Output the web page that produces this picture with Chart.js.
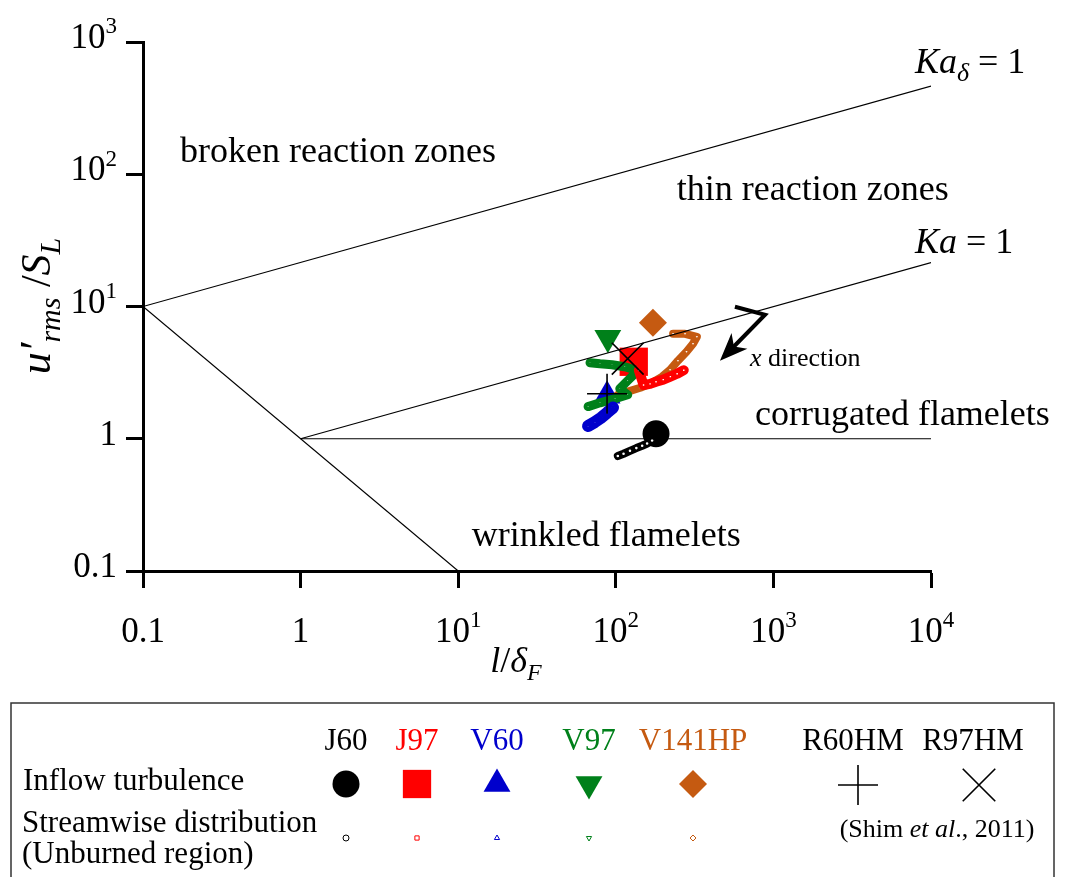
<!DOCTYPE html>
<html>
<head>
<meta charset="utf-8">
<script src="https://cdn.jsdelivr.net/npm/chart.js@4.4.1/dist/chart.umd.min.js"></script>
<style>
  html, body { margin: 0; padding: 0; background: #fff; }
  #wrap { position: relative; width: 1065px; height: 877px; }
</style>
</head>
<body>
<div id="wrap"><canvas id="regime" width="1065" height="877"></canvas></div>
<script>
// tick values / labels ("^" marks the exponent)
const xTicks = [0.1, 1, 10, 100, 1000, 10000];
const xTickLabels = ['0.1', '1', '10^1', '10^2', '10^3', '10^4'];
const yTicks = [0.1, 1, 10, 100, 1000];
const yTickLabels = ['0.1', '1', '10^1', '10^2', '10^3'];

// regime boundaries, [l/deltaF, u'rms/SL]
const kaDeltaLine = [[0.1, 10], [10000, 464]];
const kaLine = [[1, 1], [10000, 21.5]];
const reLine = [[0.1, 10], [10, 0.1]];
const unityLine = [[1, 1], [10000, 1]];

// inflow turbulence, one point per case
const cases = ['J60', 'J97', 'V60', 'V97', 'V141HP'];
const inflowX = [180, 130, 88, 89, 172];
const inflowY = [1.09, 3.82, 2.11, 5.8, 7.54];

// streamwise distribution (unburned region)
const j60X = [103, 112, 123, 135, 147, 158, 170];
const j60Y = [0.74, 0.77, 0.81, 0.85, 0.885, 0.92, 0.97];
const j97X = [140, 150, 165, 180, 200, 222, 245, 270];
const j97Y = [3.3, 2.55, 2.6, 2.7, 2.8, 2.95, 3.1, 3.3];
const v60X = [66.7, 73.8, 80.5, 87.9, 96];
const v60Y = [1.25, 1.34, 1.44, 1.57, 1.72];
const v97X = [68.6, 79.4, 94.6, 114, 138, 119, 106, 119, 98.9, 79.4, 66.7];
const v97Y = [3.76, 3.69, 3.63, 3.5, 3.27, 2.75, 2.39, 2.15, 2.01, 1.87, 1.75];
const v141X = [231, 275, 327, 309, 281, 248, 221, 196, 170, 143, 119, 103];
const v141Y = [6.22, 6.22, 5.9, 5.23, 4.55, 3.89, 3.32, 2.94, 2.65, 2.43, 2.27, 2.15];

// Shim et al., 2011
const shimCases = ['R60HM', 'R97HM'];
const shimX = [88, 119];
const shimY = [2.19, 4.03];

const caseColors = ['#000000', '#ff0000', '#0000cc', '#00801a', '#c55a11'];
const caseStyles = ['circle', 'rect', 'triangle', 'triangle', 'rectRot'];
const caseRotation = [0, 0, 0, 180, 0];
const caseRadius = [13.5, 20, 15.5, 15.5, 14];
const trailWidth = [8, 10, 12, 9, 8];

const SERIF = '"Liberation Serif", "Times New Roman", serif';
function font(size, italic) {
  return (italic ? 'italic ' : '') + size + 'px ' + SERIF;
}
// parts: [text, size, italic, dy]
function drawRich(ctx, parts, x, y, align) {
  let w = 0;
  parts.forEach(p => { ctx.font = font(p[1], p[2]); w += ctx.measureText(p[0]).width; });
  let cx = align === 'center' ? x - w / 2 : align === 'right' ? x - w : x;
  ctx.textAlign = 'left';
  ctx.textBaseline = 'alphabetic';
  parts.forEach(p => {
    ctx.font = font(p[1], p[2]);
    ctx.fillText(p[0], cx, y + (p[3] || 0));
    cx += ctx.measureText(p[0]).width;
  });
}
function tickParts(label, size) {
  const bits = label.split('^');
  const parts = [[bits[0], size, false, 0]];
  if (bits[1]) parts.push([bits[1], Math.round(size * 0.66), false, -size * 0.42]);
  return parts;
}
const pts = (xs, ys) => xs.map((x, i) => ({ x: x, y: ys[i] }));
const pairs = arr => arr.map(p => ({ x: p[0], y: p[1] }));

const datasets = [];
// Shim et al. crosses on top
shimCases.forEach((name, i) => {
  datasets.push({
    label: name, data: [{ x: shimX[i], y: shimY[i] }], order: 0,
    pointStyle: i === 0 ? 'cross' : 'crossRot', pointRadius: i === 0 ? 20 : 22.5,
    borderColor: '#000', backgroundColor: '#000', pointBorderWidth: 1.6, showLine: false
  });
});
// regime boundaries
[kaDeltaLine, kaLine, reLine, unityLine].forEach((ln, i) => {
  datasets.push({
    label: 'boundary' + i, data: pairs(ln), order: 1, showLine: true,
    borderColor: '#000', borderWidth: 1.2, pointRadius: 0, fill: false
  });
});
// streamwise trails
[[j60X, j60Y], [j97X, j97Y], [v60X, v60Y], [v97X, v97Y], [v141X, v141Y]].forEach((s, i) => {
  datasets.push({
    label: cases[i] + ' streamwise', data: pts(s[0], s[1]), order: 2, showLine: true,
    borderColor: caseColors[i], borderWidth: trailWidth[i], borderCapStyle: 'round', borderJoinStyle: 'round',
    pointStyle: caseStyles[i], rotation: caseRotation[i], pointRadius: 2,
    pointBackgroundColor: '#fff', pointBorderColor: caseColors[i], pointBorderWidth: 1.4, tension: 0
  });
});
// inflow turbulence
cases.forEach((name, i) => {
  datasets.push({
    label: name, data: [{ x: inflowX[i], y: inflowY[i] }], order: 3, showLine: false,
    pointStyle: caseStyles[i], rotation: caseRotation[i], pointRadius: caseRadius[i],
    backgroundColor: caseColors[i], borderColor: caseColors[i], pointBorderWidth: 0
  });
});

const textPlugin = {
  id: 'regimeText',
  afterDraw(chart) {
    const ctx = chart.ctx;
    const xs = chart.scales.x, ys = chart.scales.y;
    const X = v => xs.getPixelForValue(v), Y = v => ys.getPixelForValue(v);
    ctx.save();
    ctx.fillStyle = '#000';

    // tick labels
    xTicks.forEach((v, i) => drawRich(ctx, tickParts(xTickLabels[i], 35), X(v), 642, 'center'));
    yTicks.forEach((v, i) => drawRich(ctx, tickParts(yTickLabels[i], 35), 117, Y(v) + 6, 'right'));

    // axis titles
    drawRich(ctx, [['l', 36, true], ['/', 36, false], ['\u03b4', 36, true], ['F', 24, true, 8]], 516, 672, 'center');
    ctx.save();
    ctx.translate(50, 306);
    ctx.rotate(-Math.PI / 2);
    drawRich(ctx, [['u', 44, true], ['\u2032', 44, true], ['rms', 30, true, 10], [' /', 42, false], ['S', 42, true], ['L', 30, true, 10]], 0, 0, 'center');
    ctx.restore();

    // regime labels
    drawRich(ctx, [['broken reaction zones', 36, false]], X(0.172), Y(124.3), 'left');
    drawRich(ctx, [['thin reaction zones', 36, false]], X(244), Y(64.1), 'left');
    drawRich(ctx, [['corrugated flamelets', 36, false]], X(764), Y(1.276), 'left');
    drawRich(ctx, [['wrinkled flamelets', 36, false]], X(12.2), Y(0.155), 'left');
    drawRich(ctx, [['Ka', 36, true], ['\u03b4', 26, true, 8], [' = 1', 36, false]], X(7907), Y(585), 'left');
    drawRich(ctx, [['Ka', 36, true], [' = 1', 36, false]], X(7907), Y(25.5), 'left');
    drawRich(ctx, [['x', 26, true], [' direction', 26, false]], X(711), Y(3.56), 'left');

    // x direction arrow
    const ax = [570, 885, 458], ay = [9.96, 8.66, 3.89];
    ctx.strokeStyle = '#000';
    ctx.lineWidth = 4;
    ctx.lineJoin = 'miter';
    ctx.beginPath();
    ctx.moveTo(X(ax[0]), Y(ay[0]));
    ctx.lineTo(X(ax[1]), Y(ay[1]));
    const tx = X(ax[2]), ty = Y(ay[2]);
    const ang = Math.atan2(ty - Y(ay[1]), tx - X(ax[1]));
    ctx.lineTo(tx - 14 * Math.cos(ang), ty - 14 * Math.sin(ang));
    ctx.stroke();
    ctx.beginPath();
    ctx.moveTo(tx, ty);
    ctx.lineTo(tx - 30 * Math.cos(ang - 0.38), ty - 30 * Math.sin(ang - 0.38));
    ctx.lineTo(tx - 20 * Math.cos(ang), ty - 20 * Math.sin(ang));
    ctx.lineTo(tx - 30 * Math.cos(ang + 0.38), ty - 30 * Math.sin(ang + 0.38));
    ctx.closePath();
    ctx.fillStyle = '#000';
    ctx.fill();

    // legend box
    ctx.strokeStyle = '#333';
    ctx.lineWidth = 1.5;
    ctx.strokeRect(11, 703, 1043, 200);
    const colX = [346, 417, 497, 589, 693];
    cases.forEach((name, i) => {
      ctx.fillStyle = caseColors[i];
      drawRich(ctx, [[name, 31, false]], colX[i], 750, 'center');
      ctx.strokeStyle = caseColors[i];
      Chart.helpers.drawPoint(ctx, { pointStyle: caseStyles[i], rotation: caseRotation[i], radius: caseRadius[i], borderWidth: 0 }, colX[i], 784);
      ctx.fillStyle = '#fff';
      ctx.lineWidth = 1;
      Chart.helpers.drawPoint(ctx, { pointStyle: caseStyles[i], rotation: caseRotation[i], radius: 3, borderWidth: 1 }, colX[i], 838);
    });
    ctx.fillStyle = '#000';
    ctx.strokeStyle = '#000';
    const shimColX = [853, 973];
    const shimMarkX = [858, 979];
    shimCases.forEach((name, i) => {
      drawRich(ctx, [[name, 31, false]], shimColX[i], 750, 'center');
      ctx.lineWidth = 1.6;
      Chart.helpers.drawPoint(ctx, { pointStyle: i === 0 ? 'cross' : 'crossRot', radius: i === 0 ? 20 : 23, borderWidth: 1.6 }, shimMarkX[i], 785);
    });
    drawRich(ctx, [['(Shim ', 26, false], ['et al', 26, true], ['., 2011)', 26, false]], 937, 837, 'center');
    drawRich(ctx, [['Inflow turbulence', 31, false]], 23, 790, 'left');
    drawRich(ctx, [['Streamwise distribution', 31, false]], 22, 832, 'left');
    drawRich(ctx, [['(Unburned region)', 31, false]], 22, 863, 'left');
    ctx.restore();
  }
};

const axisGrid = { display: true, drawOnChartArea: false, drawTicks: true, tickLength: 17, tickWidth: 3, tickColor: '#000', color: '#000' };
new Chart(document.getElementById('regime').getContext('2d'), {
  type: 'scatter',
  data: { datasets: datasets },
  options: {
    responsive: false,
    animation: false,
    layout: { padding: { left: 0, top: 42, right: 134, bottom: 289 } },
    plugins: { legend: { display: false }, tooltip: { enabled: false } },
    scales: {
      x: {
        type: 'logarithmic', position: 'bottom', min: 0.1, max: 10000,
        grid: axisGrid, border: { display: true, color: '#000', width: 3 },
        ticks: { display: false },
        afterBuildTicks: s => { s.ticks = xTicks.map(v => ({ value: v })); },
        afterFit: s => { s.height = 17; }
      },
      y: {
        type: 'logarithmic', position: 'left', min: 0.1, max: 1000,
        grid: axisGrid, border: { display: true, color: '#000', width: 3 },
        ticks: { display: false },
        afterBuildTicks: s => { s.ticks = yTicks.map(v => ({ value: v })); },
        afterFit: s => { s.width = 143; }
      }
    }
  },
  plugins: [textPlugin]
});
</script>
</body>
</html>
